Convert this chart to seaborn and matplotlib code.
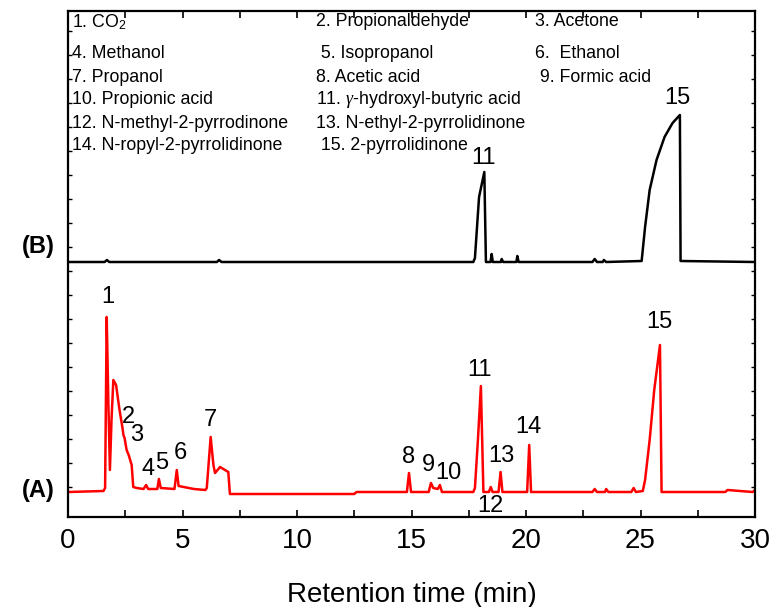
import matplotlib
matplotlib.use("Agg")
import matplotlib.pyplot as plt
import seaborn as sns
import pandas as pd

# ---------------- data ----------------
# trace A (red): retention time (min) and detector signal (a.u.)
time_A = [0, 1.55, 1.62, 1.69, 1.76, 1.83, 1.90, 1.98, 2.10, 2.25, 2.38, 2.42, 2.47,
          2.56, 2.65, 2.78, 2.85, 3.0, 3.3, 3.41, 3.5, 3.9, 3.97, 4.05, 4.65, 4.75,
          4.83, 5.5, 6.0, 6.06, 6.23, 6.35, 6.42, 6.64, 7.0, 7.07, 12.5, 12.6, 14.8,
          14.89, 14.98, 15.75, 15.85, 15.95, 16.15, 16.24, 16.33, 17.7, 17.77, 17.9,
          18.03, 18.14, 18.38, 18.46, 18.54, 18.8, 18.89, 18.97, 20.05, 20.14, 20.22,
          22.9, 23.0, 23.1, 23.45, 23.5, 23.6, 24.6, 24.7, 24.8, 25.1, 25.2, 25.4,
          25.6, 25.85, 25.92, 28.7, 28.8, 29.9, 30.0]
signal_A = [25, 26, 29, 200, 117, 47, 97, 137, 132, 107, 89, 82, 79,
            67, 62, 52, 30, 29, 28, 32, 28, 28, 38, 29, 28, 47,
            31, 28, 27, 29, 80, 52, 44, 50, 45, 23, 23, 25, 25,
            44, 25, 25, 34, 29, 28, 32, 25, 25, 29, 77,
            131, 25, 25, 30, 25, 25, 45, 25, 25, 72, 25,
            25, 28, 25, 25, 28, 25, 25, 29, 25, 26, 37, 77,
            127, 172, 25, 25, 27, 25, 27]

# trace B (black)
time_B = [0, 1.6, 1.7, 1.8, 6.5, 6.6, 6.7, 17.7, 17.77, 17.95, 18.18, 18.25, 18.45,
          18.5, 18.55, 18.9, 18.94, 19.0, 19.58, 19.62, 19.68, 22.9, 23.0, 23.1,
          23.35, 23.4, 23.5, 25.05, 25.2, 25.4, 25.7, 26.05, 26.4, 26.72, 26.75, 30.0]
signal_B = [255, 255, 257, 255, 255, 257, 255, 255, 259, 320, 345, 255, 255,
            263, 255, 255, 258, 255, 255, 261, 255, 255, 258, 255,
            255, 257, 255, 256, 290, 327, 357, 380, 394, 402, 256, 255]

# peak labels: (text, time, signal)
peaks_A = ["1", "2", "3", "4", "5", "6", "7", "8", "9", "10", "11", "12", "13", "14", "15"]
peaks_A_t = [1.72, 2.63, 3.0, 3.48, 4.09, 4.89, 6.23, 14.89, 15.73, 16.61, 17.99, 18.43, 18.94, 20.1, 25.81]
peaks_A_y = [220, 100, 82, 48, 54, 64, 97, 60, 52, 44, 147, 11, 61, 90, 195]
peaks_B = ["11", "15"]
peaks_B_t = [18.14, 26.61]
peaks_B_y = [359, 419]

legend_rows = [
    ["1. CO$_2$", "2. Propionaldehyde", "3. Acetone"],
    ["4. Methanol", " 5. Isopropanol", "6.  Ethanol"],
    ["7. Propanol", "8. Acetic acid", " 9. Formic acid"],
    ["10. Propionic acid", "11. $\\gamma$-hydroxyl-butyric acid", ""],
    ["12. N-methyl-2-pyrrodinone", "13. N-ethyl-2-pyrrolidinone", ""],
    ["14. N-ropyl-2-pyrrolidinone", " 15. 2-pyrrolidinone", ""],
]
xticks = [0, 5, 10, 15, 20, 25, 30]

# ---------------- plotting ----------------
sns.set_theme(style="ticks")
plt.rcParams['font.family'] = ['Liberation Sans', 'DejaVu Sans']
plt.rcParams['mathtext.fontset'] = 'custom'
plt.rcParams['mathtext.rm'] = 'Liberation Sans'
plt.rcParams['mathtext.it'] = 'Liberation Serif:italic'
plt.rcParams['text.color'] = 'black'
plt.rcParams['axes.labelcolor'] = 'black'
plt.rcParams['xtick.color'] = 'black'
plt.rcParams['ytick.color'] = 'black'

W, H = 775, 607
fig = plt.figure(figsize=(W / 100, H / 100), dpi=100)
ax = fig.add_axes([68 / W, 1 - 517 / H, (755 - 68) / W, (517 - 11) / H])

dfA = pd.DataFrame({"t": time_A, "s": signal_A})
dfB = pd.DataFrame({"t": time_B, "s": signal_B})
sns.lineplot(data=dfA, x="t", y="s", ax=ax, color="#ff0000", lw=1.8,
             estimator=None, sort=False)
sns.lineplot(data=dfB, x="t", y="s", ax=ax, color="black", lw=1.8,
             estimator=None, sort=False)

ax.set_xlim(0, 30)
ax.set_ylim(0, 506)
ax.set_xticks(xticks)
ax.set_xticks([2.5, 7.5, 12.5, 17.5, 22.5, 27.5], minor=True)
ax.set_yticks([30 + 24 * i for i in range(20)], minor=True)
ax.set_yticks([])
ax.tick_params(axis="x", which="both", direction="in", length=5, width=1.2,
               top=True, labelsize=20, pad=8, colors="black")
ax.tick_params(axis="y", which="minor", direction="in", length=3, width=1.0,
               left=True, right=True, colors="black")
for sp in ax.spines.values():
    sp.set_linewidth(1.6)
    sp.set_color("black")
ax.set_xlabel("Retention time (min)", fontsize=20, labelpad=20, color="black")
ax.set_ylabel("")

for lab, t, y in zip(peaks_A, peaks_A_t, peaks_A_y):
    ax.text(t, y, lab, fontsize=17, ha="center", va="center", color="black")
for lab, t, y in zip(peaks_B, peaks_B_t, peaks_B_y):
    ax.text(t, y, lab, fontsize=17, ha="center", va="center", color="black")

fig.text(38 / W, 1 - 247 / H, "(B)", fontsize=17, fontweight="bold",
         ha="center", va="center", color="black")
fig.text(38 / W, 1 - 490 / H, "(A)", fontsize=17, fontweight="bold",
         ha="center", va="center", color="black")

col_x = [72, 316, 535]
row_y = [22, 54, 77, 100, 123, 146]
for r, row in enumerate(legend_rows):
    for c, txt in enumerate(row):
        if txt:
            fig.text(col_x[c] / W, 1 - row_y[r] / H, txt, fontsize=12.8,
                     ha="left", va="center", color="black")

fig.savefig("out.png", dpi=100)
